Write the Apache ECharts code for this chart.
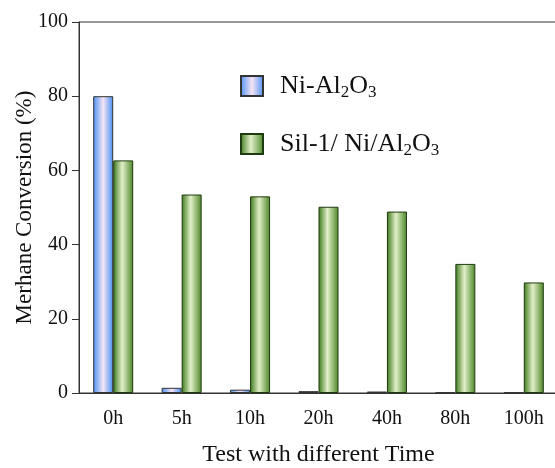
<!DOCTYPE html>
<html><head><meta charset="utf-8">
<script src="https://cdn.jsdelivr.net/npm/echarts@6/dist/echarts.min.js"></script>
<style>html,body{margin:0;padding:0;background:#fff}#c{width:555px;height:468px}</style>
</head><body><div id="c"></div>
<script>
const categories = ['0h','5h','10h','20h','40h','80h','100h'];
const niAl2O3 = [80, 1.4, 0.9, 0.5, 0.4, 0.15, 0.15];
const sil1NiAl2O3 = [62.7, 53.5, 53.0, 50.2, 48.9, 34.8, 29.8];
const yTicks = [0, 20, 40, 60, 80, 100];
const seriesNames = ['Ni-Al2O3', 'Sil-1/ Ni/Al2O3'];

const font = 'Liberation Serif, Times New Roman, serif';
const blueGrad = new echarts.graphic.LinearGradient(0,0,1,0,[
  {offset:0,color:'#4690f4'},{offset:0.5,color:'#f6e4f4'},{offset:1,color:'#4690f4'}]);
const greenGrad = new echarts.graphic.LinearGradient(0,0,1,0,[
  {offset:0,color:'#3a7818'},{offset:0.45,color:'#e2efc9'},{offset:1,color:'#4a8626'}]);

const chart = echarts.init(document.getElementById('c'));
chart.setOption({
  animation:false,
  grid:{left:79, top:22, width:479, height:371, outerBoundsMode:'none', containLabel:false,
    show:true, borderColor:'#333', borderWidth:1},
  legend:{
    orient:'vertical', left:235, top:68, itemGap:30, itemWidth:22, itemHeight:20, icon:'rect',
    data:seriesNames,
    formatter:function(n){
      if(n===seriesNames[0]) return '{a|Ni-Al}{s|2}{a|O}{s|3}';
      return '{a|Sil-1/ Ni/Al}{s|2}{a|O}{s|3}';
    },
    textStyle:{fontFamily:font, color:'#111', padding:[0,0,0,12],
      rich:{a:{fontFamily:font,fontSize:26,color:'#111'},
            s:{fontFamily:font,fontSize:17,color:'#111',padding:[13,0,0,0]}}}
  },
  xAxis:{type:'category', data:categories,
    axisLine:{lineStyle:{color:'#333'}}, axisTick:{show:false},
    axisLabel:{fontFamily:font, fontSize:20, color:'#111', margin:16},
    name:'Test with different Time', nameLocation:'middle', nameGap:50,
    nameTextStyle:{fontFamily:font, fontSize:24, color:'#111'}},
  yAxis:{type:'value', min:0, max:100, interval:20,
    axisLine:{show:true,lineStyle:{color:'#333'}},
    axisTick:{show:true, length:7, lineStyle:{color:'#333'}},
    splitLine:{show:false},
    axisLabel:{fontFamily:font, fontSize:20, color:'#111', margin:11,
      formatter:v=>yTicks.includes(v)?String(v):''},
    name:'Merhane Conversion (%)', nameLocation:'middle', nameGap:43, nameRotate:90,
    nameMoveOverlap:false,
    nameTextStyle:{fontFamily:font, fontSize:23, color:'#111'}},
  series:[
    {name:seriesNames[0], type:'bar', data:niAl2O3, barWidth:20, barGap:'0%',
      itemStyle:{color:blueGrad, borderColor:'#333', borderWidth:1}},
    {name:seriesNames[1], type:'bar', data:sil1NiAl2O3, barWidth:20, barGap:'0%',
      itemStyle:{color:greenGrad, borderColor:'#1e3a10', borderWidth:1}}
  ]
});
</script></body></html>
